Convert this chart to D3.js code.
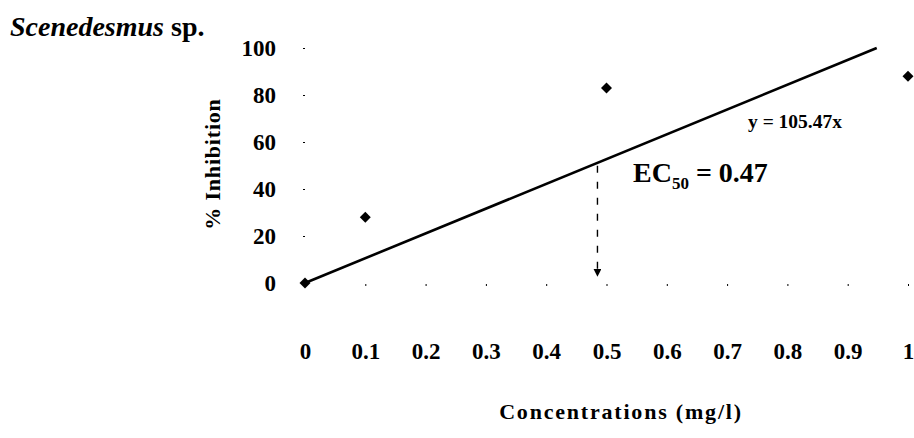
<!DOCTYPE html>
<html>
<head>
<meta charset="utf-8">
<script src="https://cdn.jsdelivr.net/npm/d3@7.9.0/dist/d3.min.js"></script>
<style>
  body { margin: 0; background: #fff; }
</style>
</head>
<body>
<div id="chart"></div>
<script>
// data
const concentrations = [0, 0.1, 0.5, 1];
const inhibition = [0, 28, 83, 88];
const xTicks = [0, 0.1, 0.2, 0.3, 0.4, 0.5, 0.6, 0.7, 0.8, 0.9, 1];
const yTicks = [0, 20, 40, 60, 80, 100];
const slope = 105.47;          // y = 105.47x
const arrowX = 0.485;          // where the dashed arrow drops
const arrowEnd = 3;            // arrow tip (in % inhibition)

const width = 914, height = 438;
const serif = "'Liberation Serif'";

const svg = d3.select('#chart').append('svg')
  .attr('width', width)
  .attr('height', height)
  .style('font-family', serif)
  .style('font-weight', 'bold');

const xScale = d3.scaleLinear().domain([0, 1]).range([305, 908]);
const yScale = d3.scaleLinear().domain([0, 100]).range([283, 48]);

// title
svg.append('text')
  .attr('x', 10).attr('y', 36)
  .style('font-size', '28px')
  .html('<tspan font-style="italic">Scenedesmus</tspan> sp.');

// y axis (only tiny tick marks are visible)
const yAxis = svg.append('g')
  .attr('transform', 'translate(305,0)')
  .call(d3.axisLeft(yScale).tickValues(yTicks).tickSize(2).tickPadding(27));
yAxis.select('.domain').remove();
yAxis.attr('font-family', null).attr('font-size', null);
yAxis.selectAll('text')
  .style('font-family', serif)
  .style('font-size', '23px')
  .attr('fill', '#000');

// x axis
const xAxis = svg.append('g')
  .attr('transform', 'translate(0,284)')
  .call(d3.axisBottom(xScale).tickValues(xTicks).tickSize(2).tickPadding(57)
    .tickFormat(d => String(d)));
xAxis.select('.domain').remove();
xAxis.attr('font-family', null).attr('font-size', null);
xAxis.selectAll('text')
  .style('font-family', serif)
  .style('font-size', '23px')
  .attr('fill', '#000');

// axis titles
svg.append('text')
  .attr('transform', 'translate(220,164) rotate(-90)')
  .attr('text-anchor', 'middle')
  .style('font-size', '22px')
  .style('letter-spacing', '0.8px')
  .text('% Inhibition');

svg.append('text')
  .attr('x', 621).attr('y', 419)
  .attr('text-anchor', 'middle')
  .style('font-size', '22px')
  .style('letter-spacing', '1.8px')
  .text('Concentrations (mg/l)');

// trend line y = 105.47x, clipped at 100
const xEnd = 100 / slope;
svg.append('line')
  .attr('x1', xScale(0)).attr('y1', yScale(0))
  .attr('x2', xScale(xEnd)).attr('y2', yScale(slope * xEnd))
  .attr('stroke', '#000')
  .attr('stroke-width', 2.6);

// data points (diamonds)
svg.append('g').selectAll('path')
  .data(concentrations.map((c, i) => [c, inhibition[i]]))
  .join('path')
  .attr('transform', d => `translate(${xScale(d[0])},${yScale(d[1])}) rotate(45)`)
  .attr('d', d3.symbol(d3.symbolSquare, 60))
  .attr('fill', '#000');

// dashed arrow
svg.append('defs').append('marker')
  .attr('id', 'arrow')
  .attr('viewBox', '0 0 10 10')
  .attr('refX', 9).attr('refY', 5)
  .attr('markerWidth', 8).attr('markerHeight', 8)
  .attr('markerUnits', 'userSpaceOnUse')
  .attr('orient', 'auto')
  .append('path').attr('d', 'M0,0L10,5L0,10Z').attr('fill', '#000');

svg.append('line')
  .attr('x1', xScale(arrowX)).attr('y1', yScale(slope * arrowX) + 3)
  .attr('x2', xScale(arrowX)).attr('y2', yScale(arrowEnd))
  .attr('stroke', '#000')
  .attr('stroke-width', 1.4)
  .attr('stroke-dasharray', '7,9')
  .attr('marker-end', 'url(#arrow)');

// equation and EC50 labels
svg.append('text')
  .attr('x', 748).attr('y', 128)
  .style('font-size', '19.5px')
  .text('y = 105.47x');

const ec = svg.append('text')
  .attr('x', 633).attr('y', 182)
  .style('font-size', '28px');
ec.append('tspan').text('EC');
ec.append('tspan').style('font-size', '17px').attr('dy', 7).text('50');
ec.append('tspan').attr('dy', -7).text(' = 0.47');
</script>
</body>
</html>
